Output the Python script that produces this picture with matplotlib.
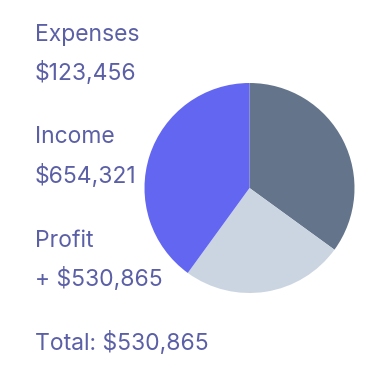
import matplotlib
matplotlib.use("Agg")
import matplotlib.pyplot as plt

# slices go clockwise from 12 o'clock
slice_names = ["Expenses", "Income", "Profit"]
slice_values = [35, 25, 40]
slice_colors = ["#64748b", "#cbd5e1", "#6366f1"]

# text block on the left
labels = ["Expenses", "$123,456", "Income", "$654,321",
          "Profit", "+ $530,865", "Total: $530,865"]
baselines_px = [41, 80, 143, 183, 247, 286, 350]

W, H = 383, 376
text_color = "#5b5fa6"

fig = plt.figure(figsize=(W / 100, H / 100), dpi=100)
fig.patch.set_facecolor("white")

# pie axes: centre ~(249, 188) px, radius ~105 px
cx, cy, r = 249.5, 188, 105
ax = fig.add_axes([(cx - r) / W, (H - cy - r) / H, 2 * r / W, 2 * r / H])
ax.pie(slice_values, colors=slice_colors, startangle=90, counterclock=False,
       radius=1, wedgeprops=dict(linewidth=0))
ax.set_xlim(-1, 1)
ax.set_ylim(-1, 1)
ax.set_aspect("auto")
ax.axis("off")

for txt, b in zip(labels, baselines_px):
    fig.text(35 / W, 1 - b / H, txt, fontsize=16.5, family="Inter",
             color=text_color, va="baseline", ha="left")

fig.savefig("out.png", dpi=100)
